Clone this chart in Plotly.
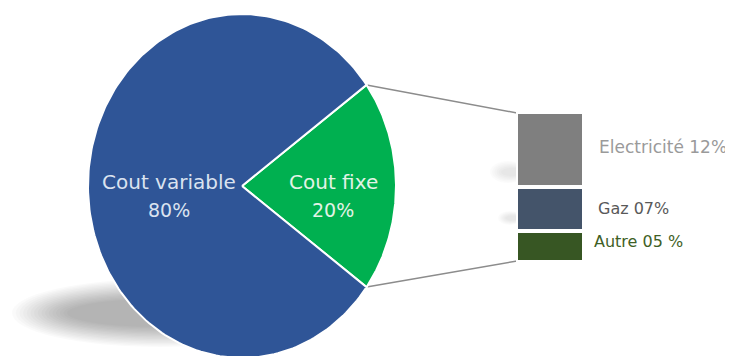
import numpy as np
import plotly.graph_objects as go

# ---- data ----
pie_labels = ["Cout fixe", "Cout variable"]
pie_values = [20, 80]
pie_text = ["20%", "80%"]
bar_labels = ["Electricité", "Gaz", "Autre"]
bar_values = [12, 7, 5]
bar_text = ["Electricité 12%", "Gaz 07%", "Autre 05 %"]

# ---- styles / layout constants ----
W, H = 733, 356
OFF = 8   # page body margin: axes are set up so that units equal screen pixels
FONT = "DejaVu Sans"
pie_colors = ["#00b050", "#2f5597"]
pie_label_colors = ["#e3f3e6", "#dbe3f0"]
bar_colors = ["#7f7f7f", "#44546a", "#375623"]
bar_label_colors = ["#9a9a9a", "#595959", "#3f5f26"]
bar_label_sizes = [17, 16, 16]

CX, CY, RX, RY = 242, 186, 154, 172           # pie ellipse (screen px)
BAR_X0, BAR_X1 = 516, 584                      # bar column (screen px)
BAR_Y0, BAR_Y1 = 112, 262                      # bar top / bottom (screen px)

fig = go.Figure()

# ---- soft shadows (drawn first, underneath) ----
shapes = []
N = 16
for i in range(N):
    f = i / (N - 1)
    shapes.append(dict(type="circle", xref="x", yref="y", layer="below",
                       x0=140 - (128 - 55 * f), x1=140 + (128 - 55 * f) + 40,
                       y0=313 - (34 - 20 * f), y1=313 + (34 - 20 * f),
                       fillcolor="rgba(0,0,0,0.018)", line=dict(width=0)))
for (sx, sy, srx, sry) in [(508, 172, 18, 11), (510, 218, 12, 7)]:
    for i in range(6):
        f = i / 5.0
        shapes.append(dict(type="circle", xref="x", yref="y", layer="below",
                           x0=sx - srx * (1 - 0.6 * f), x1=sx + srx * (1 - 0.2 * f),
                           y0=sy - sry * (1 - 0.6 * f), y1=sy + sry * (1 - 0.6 * f),
                           fillcolor="rgba(0,0,0,0.014)", line=dict(width=0)))

# ---- pie wedges (ellipse) from values ----
total = sum(pie_values)
start = -pie_values[0] / total * 180.0  # first slice centred on the right
angles = []
a = start
for lab, val, col in zip(pie_labels, pie_values, pie_colors):
    span = val / total * 360.0
    th = np.radians(np.linspace(a, a + span, 200))
    xs = np.concatenate([[CX], CX + RX * np.cos(th), [CX]])
    ys = np.concatenate([[CY], CY - RY * np.sin(th), [CY]])
    fig.add_trace(go.Scatter(x=xs, y=ys, fill="toself", fillcolor=col,
                             mode="lines", line=dict(color="white", width=2),
                             hoverinfo="skip", showlegend=False,
                             xaxis="x", yaxis="y"))
    angles.append((a, a + span))
    a += span

# ---- stacked bar on its own axes ----
bar_total = sum(bar_values)
for lab, val, col in zip(bar_labels, bar_values, bar_colors):
    fig.add_trace(go.Bar(x=["bar"], y=[val], name=lab,
                         marker=dict(color=col, line=dict(color="white", width=4)),
                         width=1.0, hoverinfo="skip", showlegend=False,
                         xaxis="x2", yaxis="y2"))

# ---- connector lines: wedge tips -> bar corners ----
a0, a1 = angles[0]
tip_top = (CX + RX * np.cos(np.radians(a1)), CY - RY * np.sin(np.radians(a1)))
tip_bot = (CX + RX * np.cos(np.radians(a0)), CY - RY * np.sin(np.radians(a0)))
for (tx, ty), by in [(tip_top, BAR_Y0 + 1), (tip_bot, BAR_Y1 - 1)]:
    shapes.append(dict(type="line", xref="x", yref="y", x0=tx, y0=ty, x1=BAR_X0 + 1, y1=by,
                       line=dict(color="#8c8c8c", width=1.5), layer="below"))

# ---- labels ----
ann = []
pie_label_pos = [(333, 182, 210), (169, 182, 210)]
for lab, txt, col, (lx, ly1, ly2) in zip(pie_labels, pie_text, pie_label_colors, pie_label_pos):
    ann.append(dict(x=lx, y=ly1, xref="x", yref="y", text=lab, showarrow=False,
                    font=dict(family=FONT, size=20, color=col), xanchor="center", yanchor="middle"))
    ann.append(dict(x=lx, y=ly2, xref="x", yref="y", text=txt, showarrow=False,
                    font=dict(family=FONT, size=19, color=col), xanchor="center", yanchor="middle"))
bar_label_pos = [(597, 147), (596, 208), (592, 241)]
for txt, col, sz, (lx, ly) in zip(bar_text, bar_label_colors, bar_label_sizes, bar_label_pos):
    ann.append(dict(x=lx, y=ly, xref="x", yref="y", text=txt, showarrow=False,
                    font=dict(family=FONT, size=sz, color=col), xanchor="left", yanchor="middle"))

fig.update_layout(
    width=W, height=H, margin=dict(l=0, r=0, t=0, b=0),
    paper_bgcolor="white", plot_bgcolor="rgba(0,0,0,0)",
    barmode="stack", bargap=0,
    xaxis=dict(range=[OFF, W + OFF], visible=False, domain=[0, 1], fixedrange=True),
    yaxis=dict(range=[H + OFF, OFF], visible=False, domain=[0, 1], fixedrange=True),
    xaxis2=dict(visible=False, domain=[(BAR_X0 - OFF) / W, (BAR_X1 - OFF) / W], anchor="y2"),
    yaxis2=dict(visible=False, range=[bar_total, 0],
                domain=[1 - (BAR_Y1 - OFF) / H, 1 - (BAR_Y0 - OFF) / H], anchor="x2"),
    shapes=shapes, annotations=ann,
)

fig.write_html("out.html")
